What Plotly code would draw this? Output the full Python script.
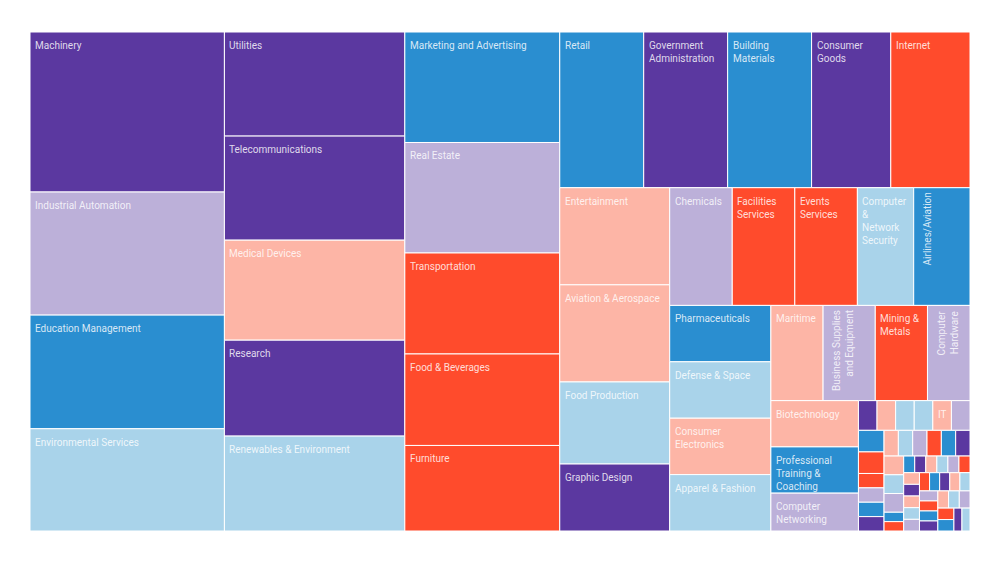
import plotly.graph_objects as go

# ---------------- data ----------------
industries = [
    "Machinery", "Industrial Automation", "Education Management", "Environmental Services",
    "Utilities", "Telecommunications", "Medical Devices", "Research", "Renewables & Environment",
    "Marketing and Advertising", "Real Estate", "Transportation", "Food & Beverages", "Furniture",
    "Retail", "Government Administration", "Building Materials", "Consumer Goods", "Internet",
    "Entertainment", "Aviation & Aerospace", "Food Production", "Graphic Design",
    "Chemicals", "Facilities Services", "Events Services", "Computer & Network Security", "Airlines/Aviation",
    "Pharmaceuticals", "Defense & Space", "Consumer Electronics", "Apparel & Fashion",
    "Maritime", "Business Supplies and Equipment", "Mining & Metals", "Computer Hardware",
    "Biotechnology", "Professional Training & Coaching", "Computer Networking",
    # small industries
    "Oil & Energy", "Automotive", "Construction", "Logistics & Supply Chain", "IT", "Computer Software",
    "Insurance", "Financial Services", "Hospital & Health Care", "Banking", "Management Consulting", "Staffing & Recruiting",
    "Higher Education", "E-Learning", "Hospitality", "Legal Services", "Accounting", "Human Resources",
    "Semiconductors", "Wireless", "Electrical/Electronic Manufacturing", "Information Services", "Security & Investigations",
    "Publishing", "Printing", "Packaging & Containers", "Plastics", "Textiles", "Media Production",
    "Broadcast Media", "Music", "Sports", "Sporting Goods", "Restaurants", "Leisure & Travel",
    "Cosmetics", "Luxury Goods & Jewelry", "Wine & Spirits", "Dairy",
    "Farming", "Fishery", "Architecture & Planning", "Design",
    "Photography", "Venture Capital", "Capital Markets",
    "Warehousing", "Import & Export", "Shipbuilding", "Outsourcing/Offshoring",
]

counts = [
    169, 130, 120, 108,
    102, 102, 98, 94, 93,
    93, 93, 85, 77, 72,
    71, 71, 71, 67, 67,
    58, 58, 49, 40,
    40, 40, 40, 36, 36,
    31, 31, 31, 31,
    27, 27, 27, 22,
    22, 22, 18,
    3, 3, 3, 3, 3, 3,
    3, 3, 2, 2, 2, 2,
    2, 2, 2, 2, 2, 2,
    2, 2, 2, 1, 1,
    1, 1, 1, 1, 1, 1,
    1, 1, 1, 1, 1, 1,
    1, 1, 1, 1,
    1, 1, 1, 1,
    1, 1, 1,
    1, 1, 1, 1,
]

# labels shown in the cells (line breaks as in the reference)
display_labels = {
    "Government Administration": "Government<br>Administration",
    "Building Materials": "Building<br>Materials",
    "Consumer Goods": "Consumer<br>Goods",
    "Facilities Services": "Facilities<br>Services",
    "Events Services": "Events<br>Services",
    "Computer & Network Security": "Computer<br>&<br>Network<br>Security",
    "Mining & Metals": "Mining &<br>Metals",
    "Consumer Electronics": "Consumer<br>Electronics",
    "Professional Training & Coaching": "Professional<br>Training &<br>Coaching",
    "Computer Networking": "Computer<br>Networking",
}
rotated_labels = {
    "Airlines/Aviation": "Airlines/Aviation",
    "Business Supplies and Equipment": "Business Supplies<br>and Equipment",
    "Computer Hardware": "Computer<br>Hardware",
}
n_labelled = 39
extra_labelled = ["IT"]

# ---------------- style ----------------
P, L, B, LB, S, R = "#5B38A0", "#BCB0D9", "#2A8ED0", "#A9D3EA", "#FDB5A6", "#FF4B2C"
colors = [
    P, L, B, LB,
    P, P, S, P, LB,
    B, L, R, R, R,
    B, P, B, P, R,
    S, S, LB, P,
    L, R, R, LB, B,
    B, LB, S, LB,
    S, L, R, L,
    S, B, L,
    P, S, LB, LB, S, L,
    B, R, R, L, B, P,
    S, LB, L, R, B, P,
    S, LB, L, B, R,
    B, P, S, LB, L, R,
    S, P, S, LB, L, R,
    B, P, S, LB,
    L, R, B, P,
    S, LB, L,
    R, B, P, LB,
]

# figure sits inside the page body (8px default margin), so size it to fit the window
W, H = 984, 546
ML, MT = 22, 24
PW, PH = 940, 499
MR, MB = W - ML - PW, H - MT - PH
RATIO = 1.618034
TXT = "rgba(255,255,255,0.82)"
FONT = "Roboto"

fig = go.Figure(go.Treemap(
    labels=industries,
    parents=[""] * len(industries),
    values=counts,
    textinfo="none",
    sort=False,
    marker=dict(colors=colors, line=dict(color="white", width=1),
                pad=dict(t=0, l=0, r=0, b=0)),
    tiling=dict(packing="squarify", squarifyratio=RATIO, pad=0),
    pathbar=dict(visible=False),
    hoverinfo="label+value",
))


# squarify (same algorithm as the treemap tiling) to place the cell labels
def squarify(vals, x0, y0, x1, y1, ratio):
    n = len(vals)
    rects = [None] * n
    value = float(sum(vals))
    i0 = i1 = 0
    while i0 < n:
        dx, dy = x1 - x0, y1 - y0
        s = vals[i1]
        i1 += 1
        mn = mx = s
        alpha = max(dy / dx, dx / dy) / (value * ratio)
        beta = s * s * alpha
        min_ratio = max(mx / beta, beta / mn)
        while i1 < n:
            v = vals[i1]
            s += v
            mn, mx = min(mn, v), max(mx, v)
            beta = s * s * alpha
            new_ratio = max(mx / beta, beta / mn)
            if new_ratio > min_ratio:
                s -= v
                break
            min_ratio = new_ratio
            i1 += 1
        if dx < dy:
            h = dy * s / value if value else dy
            xx = x0
            for k in range(i0, i1):
                w = (x1 - x0) * vals[k] / s
                rects[k] = (xx, y0, xx + w, y0 + h)
                xx += w
            y0 += h
        else:
            w = dx * s / value if value else dx
            yy = y0
            for k in range(i0, i1):
                hh = (y1 - y0) * vals[k] / s
                rects[k] = (x0, yy, x0 + w, yy + hh)
                yy += hh
            x0 += w
        value -= s
        i0 = i1
    return rects


rects = squarify(counts, 0.0, 0.0, float(PW), float(PH), RATIO)
annotations = []
for i, name in enumerate(industries):
    if not (i < n_labelled or name in extra_labelled):
        continue
    x0, y0, x1, y1 = rects[i]
    base = dict(x=x0 / PW, y=1 - y0 / PH, xref="paper", yref="paper",
                xanchor="left", yanchor="top", showarrow=False,
                font=dict(family=FONT, size=10, color=TXT))
    if name in rotated_labels:
        annotations.append(dict(base, text=rotated_labels[name], textangle=-90,
                                align="right", xshift=6, yshift=-3))
    else:
        annotations.append(dict(base, text=display_labels.get(name, name),
                                align="left", xshift=3, yshift=-6))

fig.update_layout(
    width=W, height=H,
    margin=dict(l=ML, r=MR, t=MT, b=MB),
    paper_bgcolor="white",
    annotations=annotations,
)

fig.write_html("out.html")
